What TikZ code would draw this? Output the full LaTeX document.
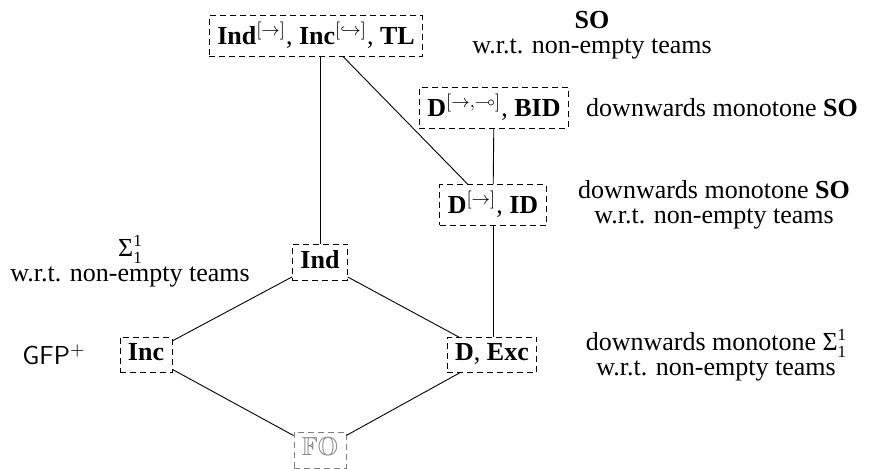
\documentclass[tikz,border=0pt]{standalone}
\usepackage{amssymb}
\usepackage{fontspec}
\setmainfont{Liberation Serif}
\usetikzlibrary{calc}
% Sigma with stacked super- and subscript 1
\newcommand{\sigmaoneone}{Σ\rlap{\raisebox{0.4em}{\fontsize{8.5}{8.5}\selectfont 1}}\raisebox{-0.27em}{\fontsize{8.5}{8.5}\selectfont 1}}
\begin{document}
\begin{tikzpicture}[x=0.5pt,y=-0.5pt,
  every node/.style={font=\fontsize{13}{12.5}\selectfont},
  logic/.style={draw, dash pattern=on 3pt off 2pt, inner xsep=4pt, inner ysep=3pt, text depth=3pt},
  faint/.style={logic, draw=gray, text=gray},
  label/.style={align=center, inner sep=0pt},
  edge/.style={line width=0.45pt}]
\useasboundingbox (0,0) rectangle (879,469);
\clip (0,0) rectangle (879,469);

% logics
\node[logic] (top)  at (316,36)  {\textbf{Ind}$^{[\rightarrow]}$, \textbf{Inc}$^{[\hookrightarrow]}$, \textbf{TL}};
\node[logic] (bid)  at (494,108) {\textbf{D}$^{[\rightarrow,\multimap]}$, \textbf{BID}};
\node[logic] (did)  at (493,205) {\textbf{D}$^{[\rightarrow]}$, \textbf{ID}};
\node[logic] (ind)  at (320,262) {\textbf{Ind}};
\node[logic] (inc)  at (146,355) {\textbf{Inc}};
\node[logic] (dexc) at (492,355) {\textbf{D}, \textbf{Exc}};
\node[faint] (fo)   at (320,450) {$\mathbb{FO}$};

% expressive power
\node[label] (lso)   at (592,35)  {\textbf{SO}\\w.r.t. non-empty teams};
\node[label] (lbid)  at (722,108) {downwards monotone \textbf{SO}};
\node[label] (ldid)  at (714,205) {downwards monotone \textbf{SO}\\w.r.t. non-empty teams};
\node[label] (lind)  at (130,261) {\sigmaoneone\\w.r.t. non-empty teams};
\node[label] (linc)  at (54,355)  {\textsf{GFP}$^{+}$};
\node[label] (ldexc) at (716,355) {downwards monotone \sigmaoneone\\w.r.t. non-empty teams};

% inclusions
\draw[edge] (ind) -- (ind |- top.south);
\draw[edge] ($(top.south)+(27,0)$) -- ($(did.north)+(-25,0)$);
\draw[edge] (bid) -- (did);
\draw[edge] (did) -- (did |- dexc.north);
\draw[edge] (inc) -- (ind);
\draw[edge] (dexc) -- (ind);
\draw[edge] (inc) -- (fo);
\draw[edge] (dexc) -- (fo);
\end{tikzpicture}
\end{document}
